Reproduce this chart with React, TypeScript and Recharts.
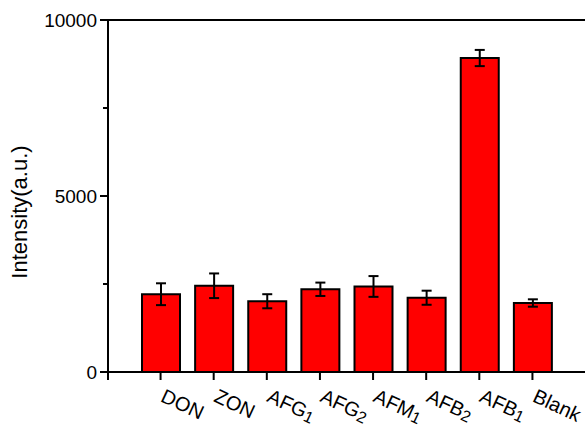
import { BarChart, Bar, XAxis, YAxis, ErrorBar, ReferenceLine } from "recharts";

const samples = ["DON", "ZON", "AFG1", "AFG2", "AFM1", "AFB2", "AFB1", "Blank"];
const intensity = [2210, 2450, 2010, 2350, 2430, 2110, 8920, 1960];
const errors = [310, 350, 200, 190, 295, 200, 230, 105];
const yTicks = [0, 2500, 5000, 7500, 10000];
const majorTicks = [0, 5000, 10000];

const data = samples.map((name, i) => ({
  name,
  value: intensity[i],
  err: errors[i],
}));

const FONT = "'Liberation Sans', Arial, Helvetica, sans-serif";

function YTick({ x, y, payload }: any) {
  const major = majorTicks.includes(payload.value);
  return (
    <g>
      <line x1={x - (major ? 8 : 5)} y1={y} x2={x} y2={y} stroke="#000" strokeWidth={2} />
      {payload.value === 0 && <line x1={x} y1={y} x2={x} y2={y + 8} stroke="#000" strokeWidth={2} />}
      {major && (
        <text x={x - 11} y={y} dy={6.5} textAnchor="end" fontSize={19} fontFamily={FONT} fill="#000">
          {payload.value}
        </text>
      )}
    </g>
  );
}

function XTick({ x, y, payload }: any) {
  const label: string = payload.value;
  const m = label.match(/^([A-Z]+)(\d)$/);
  const tx = x - 1;
  const ty = y + 29;
  return (
    <g>
      <line x1={x} y1={y} x2={x} y2={y + 8} stroke="#000" strokeWidth={2} />
      <text
        x={tx}
        y={ty}
        transform={`rotate(25 ${tx} ${ty})`}
        textAnchor="start"
        fontSize={20}
        fontFamily={FONT}
        fill="#000"
      >
        {m ? (
          <>
            {m[1]}
            <tspan fontSize={16} dy={2}>
              {m[2]}
            </tspan>
          </>
        ) : (
          label
        )}
      </text>
    </g>
  );
}

export default function App() {
  return (
    <div style={{ position: "absolute", left: 0, top: 0, width: 585, height: 427, background: "#fff" }}>
      <BarChart
        width={585}
        height={427}
        data={data}
        margin={{ top: 20, right: 0, bottom: 0, left: 0 }}
      >
        <XAxis
          dataKey="name"
          height={55}
          padding={{ left: 26, right: 26 }}
          axisLine={{ stroke: "#000", strokeWidth: 2 }}
          tickLine={false}
          tickSize={0}
          tickMargin={0}
          interval={0}
          tick={<XTick />}
        />
        <YAxis
          width={108}
          domain={[0, 10000]}
          ticks={yTicks}
          axisLine={{ stroke: "#000", strokeWidth: 2 }}
          tickLine={false}
          tickSize={0}
          tickMargin={0}
          interval={0}
          tick={<YTick />}
          allowDataOverflow
        />
        <YAxis
          yAxisId="frame"
          orientation="right"
          width={0}
          tick={false}
          tickLine={false}
          axisLine={{ stroke: "#000", strokeWidth: 2 }}
        />
        <ReferenceLine y={10000} stroke="#000" strokeWidth={2} ifOverflow="visible" />
        <Bar
          dataKey="value"
          fill="#ff0000"
          stroke="#000"
          strokeWidth={2}
          barSize={38}
          isAnimationActive={false}
        >
          <ErrorBar dataKey="err" width={5} stroke="#000" strokeWidth={2} direction="y" />
        </Bar>
        <text
          x={27}
          y={212}
          transform="rotate(-90 27 212)"
          textAnchor="middle"
          fontSize={22}
          fontFamily={FONT}
          fill="#000"
        >
          Intensity(a.u.)
        </text>
      </BarChart>
    </div>
  );
}
